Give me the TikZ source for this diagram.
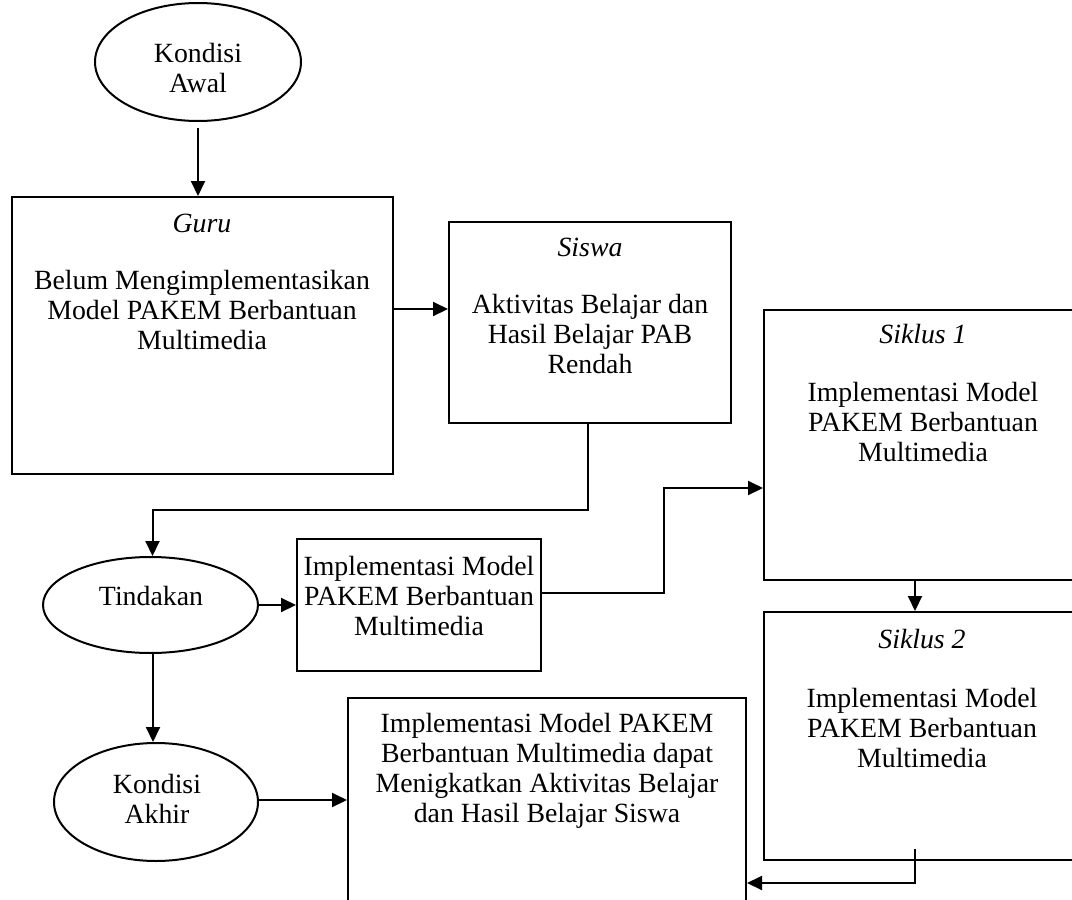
\documentclass[tikz,border=0pt]{standalone}
\usepackage{fontspec}
\setmainfont{Liberation Serif}
\usetikzlibrary{arrows.meta,shapes.geometric}
\newcommand{\mylines}[1]{\begin{tabular}[t]{@{}c@{}}#1\end{tabular}}
\begin{document}
\begin{tikzpicture}[x=1pt,y=-1pt,
  box/.style={draw, line width=2pt, rectangle, inner sep=0pt},
  oval/.style={draw, line width=2pt, ellipse, inner sep=0pt},
  txt/.style={anchor=base, inner sep=0pt, font=\fontsize{27.8}{30.2}\selectfont},
  arr/.style={line width=2pt, -{Triangle[length=15pt,width=14pt]}}]
\useasboundingbox (0,0) rectangle (1072,900);
\clip (0,0) rectangle (1072,900);
\fill[white] (0,0) rectangle (1072,900);

% shapes
\node[oval, minimum width=206pt, minimum height=118pt] (awal) at (198,62) {};
\node[box, minimum width=381pt, minimum height=277pt] (guru) at (202.5,335.5) {};
\node[box, minimum width=282pt, minimum height=201pt] (siswa) at (590,322.5) {};
\node[oval, minimum width=215pt, minimum height=96pt] (tind) at (150.5,605) {};
\node[box, minimum width=244pt, minimum height=132pt] (mid) at (419,605) {};
\node[box, minimum width=318pt, minimum height=270pt] (s1) at (923,445) {};
\node[box, minimum width=318pt, minimum height=248pt] (s2) at (923,736) {};
\node[oval, minimum width=204pt, minimum height=118pt] (akhir) at (156,802) {};
\node[box, minimum width=398pt, minimum height=370pt] (fin) at (547,883) {};

% texts
\node[txt] (tawal) at (198,62) {\mylines{Kondisi\\Awal}};
\node[txt] (tguruh) at (202,232) {\textit{Guru}};
\node[txt] (tguru) at (202,289) {\mylines{Belum Mengimplementasikan\\Model PAKEM Berbantuan\\Multimedia}};
\node[txt] (tsiswah) at (590,256) {\textit{Siswa}};
\node[txt] (tsiswa) at (590,313) {\mylines{Aktivitas Belajar dan\\Hasil Belajar PAB\\Rendah}};
\node[txt] (ttind) at (151,605) {Tindakan};
\node[txt] (tmid) at (419,575) {\mylines{Implementasi Model\\PAKEM Berbantuan\\Multimedia}};
\node[txt] (ts1h) at (923,343) {\textit{Siklus 1}};
\node[txt] (ts1) at (923,401) {\mylines{Implementasi Model\\PAKEM Berbantuan\\Multimedia}};
\node[txt] (ts2h) at (922,648) {\textit{Siklus 2}};
\node[txt] (ts2) at (922,707) {\mylines{Implementasi Model\\PAKEM Berbantuan\\Multimedia}};
\node[txt] (takhir) at (157,793) {\mylines{Kondisi\\Akhir}};
\node[txt] (tfin) at (547,732) {\mylines{Implementasi Model PAKEM\\Berbantuan Multimedia dapat\\Menigkatkan Aktivitas Belajar\\dan Hasil Belajar Siswa}};

% connectors
\draw[arr, shorten <=6pt] (awal.south) -- (awal.south |- guru.north);
\draw[arr] ([yshift=26.5pt]guru.east) -- ([yshift=26.5pt]guru.east -| siswa.west);
\coordinate (j1) at (0,510);
\draw[arr] ([xshift=-2pt]siswa.south) -- ([xshift=-2pt]siswa.south |- j1) -| ([xshift=2pt]tind.north);
\draw[arr] (tind.east) -- (mid.west);
\draw[arr] ([yshift=12pt]mid.east) -- ++(122,0) |- ([yshift=-43pt]s1.west);
\draw[arr] ([xshift=-8pt]s1.south) -- ([xshift=-8pt]s2.north);
\draw[arr] ([xshift=-8pt,yshift=12pt]s2.south) |- (fin.east);
\draw[arr] ([xshift=2.5pt]tind.south) -- ([xshift=2.5pt]tind.south |- akhir.north);
\draw[arr] ([yshift=2pt]akhir.east) -- ([yshift=2pt]akhir.east -| fin.west);
\end{tikzpicture}
\end{document}
